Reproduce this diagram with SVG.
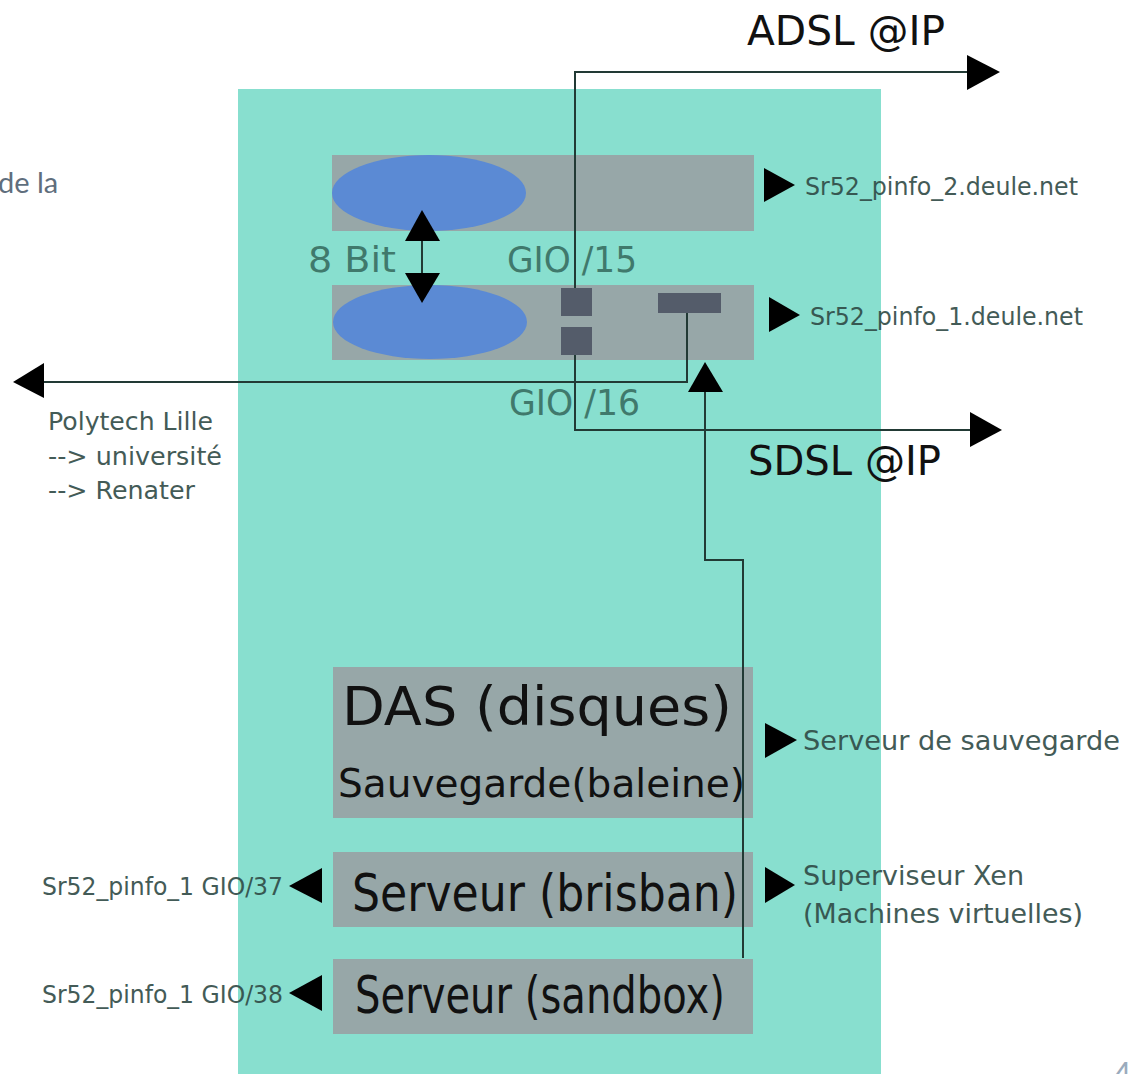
<svg xmlns="http://www.w3.org/2000/svg" width="1136" height="1074" viewBox="0 0 1136 1074">
<style>
.box{fill:#97a7a8}
.ell{fill:#5b8ad4}
.port{fill:#545c6a}
.wire{fill:none;stroke:#223a35;stroke-width:2}
.head{fill:#000}
.dj{font-family:"DejaVu Sans","Liberation Sans",sans-serif}
.big{fill:#111}
.gio{fill:#40796c;font-size:35px}
.lbl{fill:#2f4a45;font-size:24px;opacity:0.9}
.side{fill:#2f4a45;font-size:27px;opacity:0.9}
</style>
<rect width="1136" height="1074" fill="#fff"/>
<text x="-2" y="193" font-family="Lato, 'Liberation Sans', sans-serif" font-size="29" fill="#5f6e7d">de la</text>
<rect id="rack" x="238" y="89" width="643" height="990" fill="#88dfcf"/>

<g id="sr52_pinfo_2">
<rect class="box" x="332" y="155" width="422" height="76"/>
<ellipse class="ell" cx="429" cy="193" rx="97" ry="38"/>
</g>
<g id="sr52_pinfo_1">
<rect class="box" x="332" y="285" width="422" height="75"/>
<ellipse class="ell" cx="430" cy="322" rx="97" ry="37"/>
<rect class="port" x="561" y="288" width="31" height="28"/>
<rect class="port" x="561" y="327" width="31" height="28"/>
<rect class="port" x="658" y="293" width="63" height="20"/>
</g>
<g id="labels-switch" class="dj">
<text class="gio" x="308" y="272" textLength="88" lengthAdjust="spacingAndGlyphs">8 Bit</text>
<text class="gio" x="507" y="272" textLength="130" lengthAdjust="spacingAndGlyphs">GIO /15</text>
<text class="gio" x="509" y="415" textLength="131" lengthAdjust="spacingAndGlyphs">GIO /16</text>
</g>

<g id="das">
<rect class="box" x="333" y="667" width="420" height="151"/>
<text class="dj big" x="342" y="725" font-size="53" textLength="390" lengthAdjust="spacingAndGlyphs">DAS (disques)</text>
<text class="dj big" x="338" y="797" font-size="39" textLength="407" lengthAdjust="spacingAndGlyphs">Sauvegarde(baleine)</text>
</g>
<g id="brisban">
<rect class="box" x="333" y="852" width="420" height="75"/>
<text class="dj big" x="352" y="911" font-size="52" textLength="386" lengthAdjust="spacingAndGlyphs">Serveur (brisban)</text>
</g>
<g id="sandbox">
<rect class="box" x="333" y="959" width="420" height="75"/>
<text class="dj big" x="355" y="1013" font-size="52" textLength="370" lengthAdjust="spacingAndGlyphs">Serveur (sandbox)</text>
</g>

<g id="connectors">
<path class="wire" d="M575,288 V72 H968"/>
<polygon class="head" points="967,55 1000,72 967,90"/>
<path class="wire" d="M575,355 V430 H971"/>
<polygon class="head" points="970,412 1002,430 970,447"/>
<path class="wire" d="M687,313 V382 H43"/>
<polygon class="head" points="44,363 13,382 44,398"/>
<path class="wire" d="M743,958 V560 H705 V391"/>
<polygon class="head" points="688,392 705,362 723,392"/>
<path class="wire" d="M422,240 V274"/>
<polygon class="head" points="405,241 422,210 440,241"/>
<polygon class="head" points="405,273 422,303 440,273"/>
</g>

<g id="ext-labels" class="dj">
<text class="big" x="747" y="45" font-size="41" textLength="198" lengthAdjust="spacingAndGlyphs">ADSL @IP</text>
<text class="big" x="748" y="475" font-size="41" textLength="193" lengthAdjust="spacingAndGlyphs">SDSL @IP</text>
<polygon class="head" points="764,168 795,185 764,202"/>
<text class="lbl" x="805" y="195" textLength="273" lengthAdjust="spacingAndGlyphs">Sr52_pinfo_2.deule.net</text>
<polygon class="head" points="769,297 800,315 769,332"/>
<text class="lbl" x="810" y="325" textLength="273" lengthAdjust="spacingAndGlyphs">Sr52_pinfo_1.deule.net</text>
<text class="lbl" x="48" y="430" textLength="165" lengthAdjust="spacingAndGlyphs">Polytech Lille</text>
<text class="lbl" x="48" y="465" textLength="174" lengthAdjust="spacingAndGlyphs">--&gt; université</text>
<text class="lbl" x="48" y="499" textLength="147" lengthAdjust="spacingAndGlyphs">--&gt; Renater</text>
<polygon class="head" points="765,723 797,740 765,758"/>
<text class="side" x="803" y="750" textLength="317" lengthAdjust="spacingAndGlyphs">Serveur de sauvegarde</text>
<polygon class="head" points="765,867 795,885 765,903"/>
<text class="side" x="803" y="885">Superviseur Xen</text>
<text class="side" x="803" y="923" textLength="280" lengthAdjust="spacingAndGlyphs">(Machines virtuelles)</text>
<polygon class="head" points="322,868 289,886 322,903"/>
<text class="lbl" x="42" y="895" textLength="241" lengthAdjust="spacingAndGlyphs">Sr52_pinfo_1 GIO/37</text>
<polygon class="head" points="322,975 289,993 322,1011"/>
<text class="lbl" x="42" y="1003" textLength="241" lengthAdjust="spacingAndGlyphs">Sr52_pinfo_1 GIO/38</text>
</g>
<text x="1113" y="1086" font-family="Lato, 'Liberation Sans', sans-serif" font-size="32" fill="#9aabbd">4</text>
</svg>
